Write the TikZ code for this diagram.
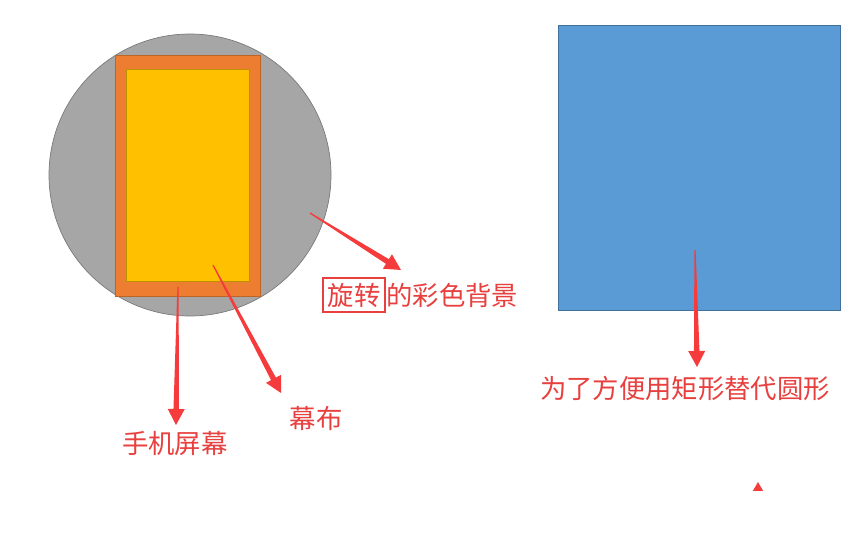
\documentclass[tikz,border=0pt]{standalone}
\usepackage{fontspec}
\newfontfamily\cjk{Noto Sans CJK SC}
\usetikzlibrary{calc,positioning,shapes.geometric}
\definecolor{bggray}{HTML}{A6A6A6}
\definecolor{rimgray}{HTML}{7A7A7A}
\definecolor{screenorange}{HTML}{ED7D31}
\definecolor{curtainyellow}{HTML}{FFC000}
\definecolor{squareblue}{HTML}{5B9BD5}
\definecolor{squarerim}{HTML}{41719C}
\definecolor{arrowred}{HTML}{F53B3B}
\definecolor{labelred}{HTML}{E8403F}
\tikzset{
    label/.style={text=labelred, inner sep=0pt, font=\cjk\fontsize{15}{18}\selectfont},
    block/.style={draw, line width=0.4pt, inner sep=0pt}
}
% tapered arrow from #1 to #2
\newcommand{\taper}[2]{%
  \path ($(#2)!0.32cm!(#1)$) coordinate (hb);
  \fill[arrowred] ($(#1)!0.012cm!90:(#2)$) -- ($(hb)!0.055cm!-90:(#1)$)
    -- ($(hb)!0.17cm!-90:(#1)$) -- (#2) -- ($(hb)!0.17cm!90:(#1)$)
    -- ($(hb)!0.055cm!90:(#1)$) -- ($(#1)!0.012cm!-90:(#2)$) -- cycle;
}

\begin{document}
\begin{tikzpicture}[x=0.02cm,y=-0.02cm]
        \useasboundingbox[fill=white] (0,0) rectangle (867,547);
        % phone, curtain and the rotating background
        \node[block, circle, fill=bggray, draw=rimgray, minimum size=282*0.02cm] (bg) at (190,175) {};
        \node[block, fill=screenorange, draw=screenorange!80!black, minimum width=145*0.02cm, minimum height=241*0.02cm] (screen) at (187.5,175.5) {};
        \node[block, fill=curtainyellow, draw=curtainyellow!75!black, minimum width=123*0.02cm, minimum height=212*0.02cm] (curtain) at (187.5,175) {};
        \node[block, fill=squareblue, draw=squarerim, minimum width=282*0.02cm, minimum height=285*0.02cm] (square) at (699,167.5) {};
        % labels
        \node[label, draw=labelred, line width=1.3pt, inner sep=4.5*0.02cm] (rot) at (354,295) {旋转};
        \node[label, right=0pt of rot] (bgtext) {的彩色背景};
        \node[label] (curtaintext) at (316,418) {幕布};
        \node[label] (screentext) at (175,444) {手机屏幕};
        \node[label] (squaretext) at (685,388) {为了方便用矩形替代圆形};
        \node[regular polygon, regular polygon sides=3, fill=arrowred, inner sep=0pt, minimum size=12*0.02cm] (tip) at (758,488) {};
        % arrows
        \coordinate (bgfrom) at (310,213);
        \coordinate (bgto) at (401,270);
        \coordinate (screenfrom) at (178,287);
        \coordinate (screento) at (176,425);
        \coordinate (curtainfrom) at (213,265);
        \coordinate (curtainto) at (281,393);
        \coordinate (squarefrom) at (695,250);
        \coordinate (squareto) at (697,367);
        \taper{bgfrom}{bgto}
        \taper{screenfrom}{screento}
        \taper{curtainfrom}{curtainto}
        \taper{squarefrom}{squareto}
\end{tikzpicture}
\end{document}
